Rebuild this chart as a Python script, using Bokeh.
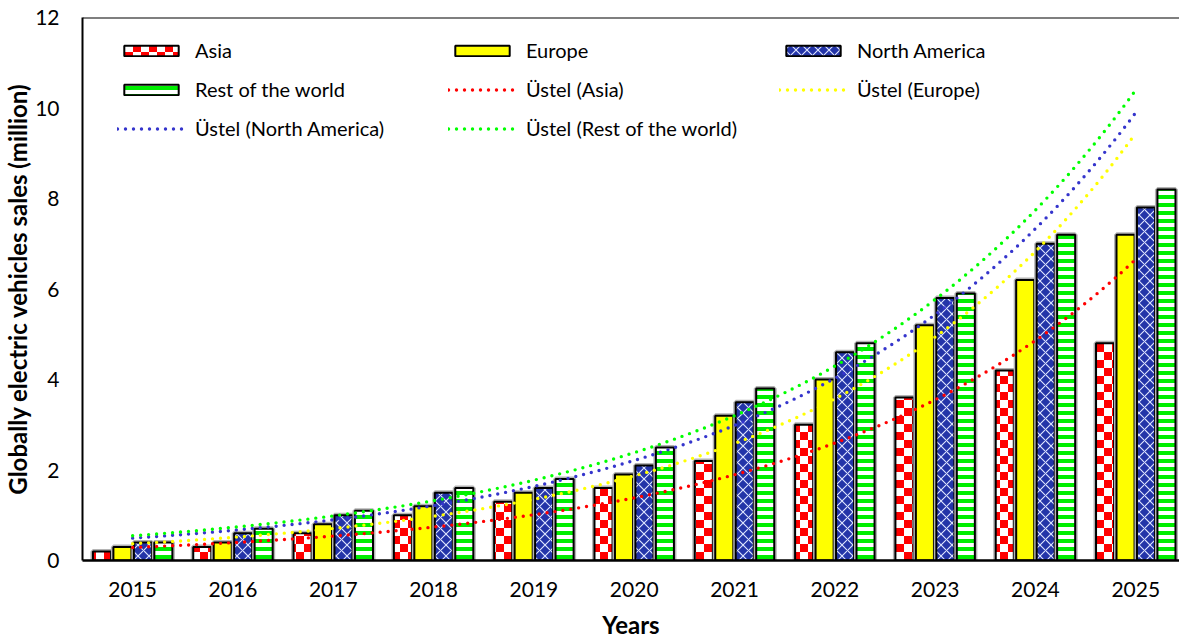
import base64
import numpy as np
from bokeh.plotting import figure
from bokeh.models import ColumnDataSource, Legend, LegendItem, FixedTicker, Span, Range1d
from bokeh.models.textures import ImageURLTexture
from bokeh.core.properties import value
from bokeh.transform import dodge
from bokeh.embed import file_html
from bokeh.resources import INLINE

# ---- data ----
years = ["2015", "2016", "2017", "2018", "2019", "2020", "2021", "2022", "2023", "2024", "2025"]
asia = [0.2, 0.3, 0.6, 1.0, 1.3, 1.6, 2.2, 3.0, 3.6, 4.2, 4.8]
europe = [0.3, 0.4, 0.8, 1.2, 1.5, 1.9, 3.2, 4.0, 5.2, 6.2, 7.2]
north_america = [0.4, 0.6, 1.0, 1.5, 1.6, 2.1, 3.5, 4.6, 5.8, 7.0, 7.8]
rest_world = [0.4, 0.7, 1.1, 1.6, 1.8, 2.5, 3.8, 4.8, 5.9, 7.2, 8.2]
y_ticks = [0, 2, 4, 6, 8, 10, 12]

series_names = ["Asia", "Europe", "North America", "Rest of the world"]
series_values = [asia, europe, north_america, rest_world]
trend_colors = ["#ff0000", "#ffff00", "#3535cc", "#00ff00"]

FONT = "Lato"

xi = list(range(len(years)))
src = ColumnDataSource(dict(x=xi, asia=asia, europe=europe, na=north_america, rest=rest_world))

p = figure(width=1179, height=642, output_backend="svg", toolbar_location=None,
           x_range=Range1d(-0.5, 10.436), y_range=Range1d(0, 12),
           min_border_left=81, min_border_right=0, min_border_top=17, min_border_bottom=82,
           background_fill_color="white", border_fill_color="white", outline_line_color=None)
p.xgrid.visible = False
p.ygrid.visible = False

checker_svg = ('<svg xmlns="http://www.w3.org/2000/svg" width="16" height="16">'
               '<rect x="0" y="0" width="16" height="16" fill="#ffffff"/>'
               '<rect x="0" y="0" width="8" height="8" fill="#ff0000"/>'
               '<rect x="8" y="8" width="8" height="8" fill="#ff0000"/></svg>')
checker = ImageURLTexture(url="data:image/svg+xml;base64," + base64.b64encode(checker_svg.encode()).decode())

offsets = [-0.306, -0.102, 0.102, 0.306]
cols = ["asia", "europe", "na", "rest"]
W = 0.18

styles = [
    dict(fill_color="white", hatch_pattern=value("checker"), hatch_extra={"checker": checker}),
    dict(fill_color="#ffff00"),
    dict(fill_color="#2334a8", hatch_pattern="diagonal_cross", hatch_color="#dfe6ff",
         hatch_weight=1.1, hatch_scale=11),
    dict(fill_color="white", hatch_pattern="horizontal_line", hatch_color="#00ee00",
         hatch_weight=4, hatch_scale=8),
]

bar_renderers = []
for off, c, st in zip(offsets, cols, styles):
    xx = dodge("x", off, range=p.x_range)
    p.vbar(x=xx, top=c, width=W, source=src, fill_color=None,
           line_color="#b4b4b4", line_width=5)
    r = p.vbar(x=xx, top=c, width=W, source=src, line_color="black", line_width=2, **st)
    bar_renderers.append(r)

# exponential trendlines (least squares in log space, as Excel does)
t = np.linspace(0, 10, 201)
trend_renderers = []
for vals, col in zip(series_values, trend_colors):
    b, a = np.polyfit(np.array(xi, dtype=float), np.log(np.array(vals)), 1)
    r = p.line(t, np.exp(a + b * t), line_color=col, line_width=3.4,
               line_dash="0 8", line_cap="round")
    trend_renderers.append(r)

p.add_layout(Span(location=12, dimension="width", line_color="black", line_width=2))

items = [LegendItem(label=n, renderers=[r]) for n, r in zip(series_names, bar_renderers)]
items += [LegendItem(label="Üstel (%s)" % n, renderers=[r]) for n, r in zip(series_names, trend_renderers)]
legend = Legend(items=items, orientation="horizontal", ncols=3, location=(35, 420),
                padding=0, margin=0, spacing=15, glyph_width=68, glyph_height=13,
                label_standoff=10, label_width=238, label_height=20,
                border_line_color=None, background_fill_alpha=0,
                label_text_font=FONT, label_text_font_size="20px", label_text_color="black")
p.add_layout(legend)

for ax in (p.xaxis, p.yaxis):
    ax.major_tick_out = 0
    ax.major_tick_in = 0
    ax.minor_tick_out = 0
    ax.minor_tick_in = 0
    ax.axis_line_color = "black"
    ax.major_label_text_font = FONT
    ax.major_label_text_font_size = "21px"
    ax.major_label_text_color = "black"
    ax.axis_label_text_font = FONT
    ax.axis_label_text_font_style = "bold"
    ax.axis_label_text_font_size = "24px"
    ax.axis_label_text_color = "black"

p.xaxis.axis_line_width = 2.5
p.yaxis.axis_line_width = 2
p.xaxis.ticker = FixedTicker(ticks=xi)
p.xaxis.major_label_overrides = {i: y for i, y in zip(xi, years)}
p.xaxis.major_label_standoff = 21
p.xaxis.axis_label = "Years"
p.xaxis.axis_label_standoff = 10
p.yaxis.ticker = FixedTicker(ticks=y_ticks)
p.yaxis.major_label_standoff = 23
p.yaxis.axis_label = "Globally electric vehicles sales (million)"
p.yaxis.axis_label_standoff = 0

open("out.html", "w").write(file_html(p, INLINE))
